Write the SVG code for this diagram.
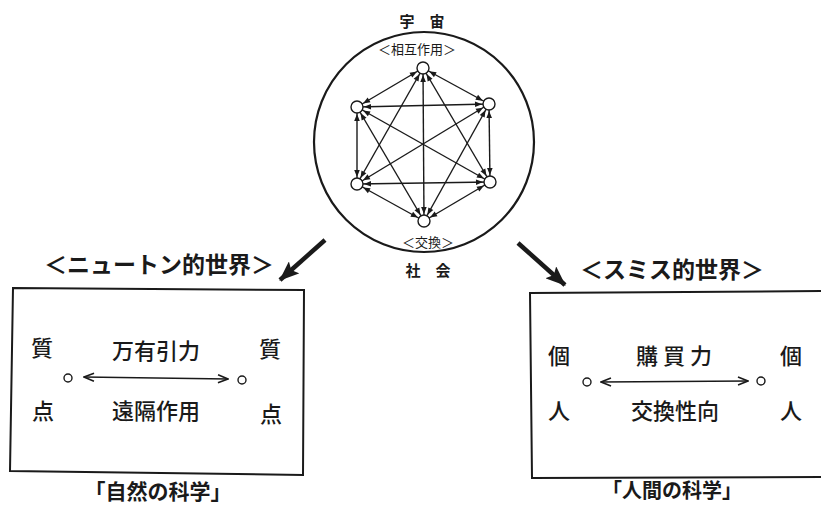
<svg xmlns="http://www.w3.org/2000/svg" width="821" height="506" viewBox="0 0 821 506">
<style>
.t{font-family:"Noto Sans CJK JP","Noto Sans CJK SC",sans-serif;fill:#1a1a1a}
.m{font-weight:500}
.b{font-weight:bold}
.e{stroke:#1a1a1a;stroke-width:1.4;fill:none}
.n{fill:#fff;stroke:#1a1a1a;stroke-width:1.4}
.box{fill:none;stroke:#1a1a1a;stroke-width:2}
</style>
<defs>
<marker id="ah" viewBox="0 0 16 8" refX="16" refY="4" markerWidth="16" markerHeight="8" markerUnits="userSpaceOnUse" orient="auto-start-reverse">
<path d="M2,1.2 L9,4 L2,6.8 z" fill="#1a1a1a"/>
</marker>
<marker id="oa" viewBox="0 0 12 10" refX="11" refY="5" markerWidth="12" markerHeight="10" markerUnits="userSpaceOnUse" orient="auto-start-reverse">
<path d="M1,1 L11,5 L1,9" fill="none" stroke="#1a1a1a" stroke-width="1.6"/>
</marker>
<marker id="big" viewBox="0 0 20 16" refX="19" refY="8" markerWidth="20" markerHeight="16" markerUnits="userSpaceOnUse" orient="auto">
<path d="M0,0 L20,8 L0,16 L4,8 z" fill="#1a1a1a"/>
</marker>
</defs>
<rect width="821" height="506" fill="#fff"/>

<g id="universe">
<circle cx="424" cy="142" r="110" fill="none" stroke="#1a1a1a" stroke-width="2.2"/>
<text class="t b" x="422" y="27" font-size="15" text-anchor="middle">宇　宙</text>
<text class="t" x="417" y="54" font-size="13" text-anchor="middle">＜相互作用＞</text>
<text class="t" x="428" y="247" font-size="13" text-anchor="middle">＜交換＞</text>
<text class="t b" x="428" y="276" font-size="15" text-anchor="middle">社　会</text>
</g>

<g id="newton">
<text class="t b" x="159" y="273" font-size="23" text-anchor="middle">＜ニュートン的世界＞</text>
<polygon class="box" points="13,288 304,290 303,475 10,471"/>
<text class="t m" x="42" y="356" font-size="22" text-anchor="middle">質</text>
<text class="t m" x="156" y="359" font-size="22" text-anchor="middle">万有引力</text>
<text class="t m" x="270" y="357" font-size="22" text-anchor="middle">質</text>
<circle class="n" cx="68" cy="378" r="4"/>
<circle class="n" cx="242" cy="380" r="4"/>
<text class="t m" x="43" y="419" font-size="22" text-anchor="middle">点</text>
<text class="t m" x="156" y="419" font-size="22" text-anchor="middle">遠隔作用</text>
<text class="t m" x="271" y="422" font-size="22" text-anchor="middle">点</text>
<text class="t b" x="158" y="499" font-size="21" text-anchor="middle">「自然の科学」</text>
</g>

<g id="smith">
<text class="t b" x="672" y="278" font-size="23" text-anchor="middle">＜スミス的世界＞</text>
<polygon class="box" points="530,293 830,291 830,477 532,478"/>
<text class="t m" x="559" y="364" font-size="22" text-anchor="middle">個</text>
<text class="t m" x="674" y="364" font-size="22" text-anchor="middle">購 買 力</text>
<text class="t m" x="791" y="364" font-size="22" text-anchor="middle">個</text>
<circle class="n" cx="587" cy="382" r="4"/>
<circle class="n" cx="761" cy="381" r="4"/>
<text class="t m" x="559" y="419" font-size="22" text-anchor="middle">人</text>
<text class="t m" x="675" y="419" font-size="22" text-anchor="middle">交換性向</text>
<text class="t m" x="791" y="419" font-size="22" text-anchor="middle">人</text>
<text class="t b" x="672" y="498" font-size="20" text-anchor="middle">「人間の科学」</text>
</g>

<g id="connectors">
<g class="e" marker-start="url(#ah)" marker-end="url(#ah)">
<line x1="423" y1="68" x2="357" y2="107"/>
<line x1="423" y1="68" x2="489" y2="104"/>
<line x1="423" y1="68" x2="357" y2="184"/>
<line x1="423" y1="68" x2="490" y2="182"/>
<line x1="423" y1="68" x2="424" y2="221"/>
<line x1="357" y1="107" x2="489" y2="104"/>
<line x1="357" y1="107" x2="357" y2="184"/>
<line x1="357" y1="107" x2="490" y2="182"/>
<line x1="357" y1="107" x2="424" y2="221"/>
<line x1="489" y1="104" x2="357" y2="184"/>
<line x1="489" y1="104" x2="490" y2="182"/>
<line x1="489" y1="104" x2="424" y2="221"/>
<line x1="357" y1="184" x2="490" y2="182"/>
<line x1="357" y1="184" x2="424" y2="221"/>
<line x1="490" y1="182" x2="424" y2="221"/>
</g>
<line x1="325" y1="240" x2="280" y2="280" stroke="#1a1a1a" stroke-width="4.5" marker-end="url(#big)"/>
<line x1="518" y1="243" x2="565" y2="285" stroke="#1a1a1a" stroke-width="4.5" marker-end="url(#big)"/>
<line x1="84" y1="377" x2="228" y2="379" stroke="#1a1a1a" stroke-width="1.6" marker-start="url(#oa)" marker-end="url(#oa)"/>
<line x1="601" y1="382" x2="748" y2="381" stroke="#1a1a1a" stroke-width="1.6" marker-start="url(#oa)" marker-end="url(#oa)"/>
</g>

<g id="nodes">
<circle id="n1" class="n" cx="423" cy="68" r="6"/>
<circle id="n2" class="n" cx="357" cy="107" r="6"/>
<circle id="n3" class="n" cx="489" cy="104" r="6"/>
<circle id="n4" class="n" cx="357" cy="184" r="6"/>
<circle id="n5" class="n" cx="490" cy="182" r="6"/>
<circle id="n6" class="n" cx="424" cy="221" r="6"/>
</g>
</svg>
